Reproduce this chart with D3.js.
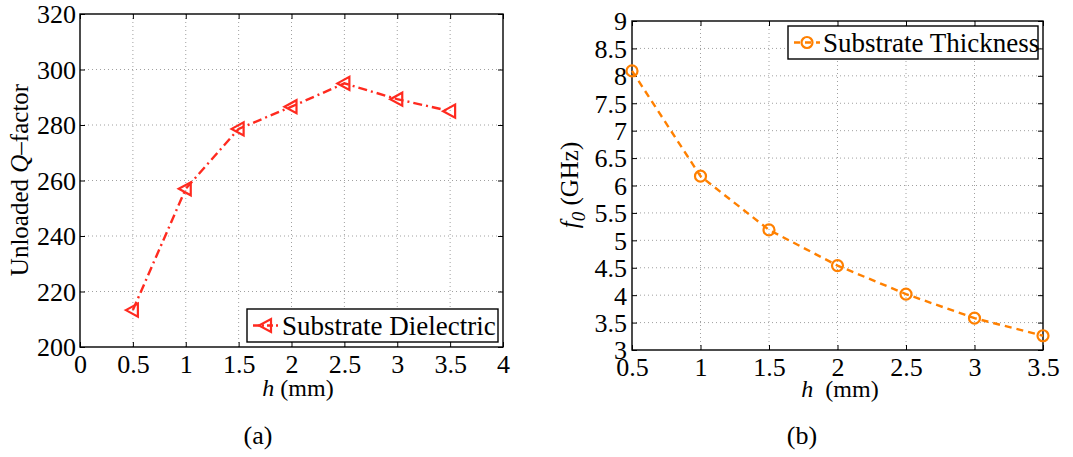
<!DOCTYPE html>
<html>
<head>
<meta charset="utf-8">
<script src="https://cdn.jsdelivr.net/npm/d3@7"></script>
<style>
  html, body { margin: 0; padding: 0; background: #fff; }
  svg { display: block; }
  svg text { font-family: "Liberation Serif", "Times New Roman", "DejaVu Serif", serif; }
</style>
</head>
<body>
<svg id="fig" width="1073" height="457"></svg>
<script>
// Substrate thickness h (mm)
const thicknessA = [0.5, 1, 1.5, 2, 2.5, 3, 3.5];
const qFactor = [213.3, 257, 278.6, 286.6, 295, 289.3, 285];

const thicknessB = [0.5, 1, 1.5, 2, 2.5, 3, 3.5];
const resonantFreq = [8.09, 6.17, 5.19, 4.54, 4.02, 3.58, 3.26];

const xTicksA = [0, 0.5, 1, 1.5, 2, 2.5, 3, 3.5, 4];
const yTicksA = [200, 220, 240, 260, 280, 300, 320];
const xTicksB = [0.5, 1, 1.5, 2, 2.5, 3, 3.5];
const yTicksB = [3, 3.5, 4, 4.5, 5, 5.5, 6, 6.5, 7, 7.5, 8, 8.5, 9];

const legendA = "Substrate Dielectric";
const legendB = "Substrate Thickness";

const RED = "#ff2a1f";
const ORANGE = "#ff8000";
const FS_TICK = 26;
const FS_LEG = 27;
const FS_LABEL = 24;
const SERIF = "Liberation Serif, Times New Roman, DejaVu Serif, serif";

const svg = d3.select("#fig");

function panel(cfg) {
  const x = d3.scaleLinear().domain(cfg.xDomain).range([cfg.left, cfg.right]);
  const y = d3.scaleLinear().domain(cfg.yDomain).range([cfg.bottom, cfg.top]);
  const g = svg.append("g");

  // dotted grid
  g.selectAll(".gx").data(cfg.xTicks.filter(t => t !== cfg.xDomain[0] && t !== cfg.xDomain[1]))
    .join("line")
    .attr("x1", d => x(d)).attr("x2", d => x(d))
    .attr("y1", cfg.top).attr("y2", cfg.bottom)
    .attr("stroke", "#a0a0a0").attr("stroke-width", 1).attr("stroke-dasharray", "1,3");
  g.selectAll(".gy").data(cfg.yTicks.filter(t => t !== cfg.yDomain[0] && t !== cfg.yDomain[1]))
    .join("line")
    .attr("x1", cfg.left).attr("x2", cfg.right)
    .attr("y1", d => y(d)).attr("y2", d => y(d))
    .attr("stroke", "#a0a0a0").attr("stroke-width", 1).attr("stroke-dasharray", "1,3");

  // axes with inward ticks on every side
  const tl = 5;
  const axB = g.append("g").attr("transform", `translate(0,${cfg.bottom})`)
    .call(d3.axisBottom(x).tickValues(cfg.xTicks).tickSize(-tl).tickPadding(8).tickFormat(d3.format("")));
  const axT = g.append("g").attr("transform", `translate(0,${cfg.top})`)
    .call(d3.axisTop(x).tickValues(cfg.xTicks).tickSize(-tl).tickFormat(""));
  const axL = g.append("g").attr("transform", `translate(${cfg.left},0)`)
    .call(d3.axisLeft(y).tickValues(cfg.yTicks).tickSize(-tl).tickPadding(cfg.yPad).tickFormat(d3.format("")));
  const axR = g.append("g").attr("transform", `translate(${cfg.right},0)`)
    .call(d3.axisRight(y).tickValues(cfg.yTicks).tickSize(-tl).tickFormat(""));
  [axB, axT, axL, axR].forEach(a => {
    a.attr("font-family", SERIF);
    a.select(".domain").remove();
    a.selectAll("line").attr("stroke", "#000").attr("stroke-width", 1);
    a.selectAll("text").attr("font-family", SERIF).attr("font-size", FS_TICK).attr("fill", "#000");
  });
  axB.selectAll("text").attr("dy", "0.71em");
  axL.selectAll("text").attr("dy", "0.34em");

  g.append("rect")
    .attr("x", cfg.left).attr("y", cfg.top)
    .attr("width", cfg.right - cfg.left).attr("height", cfg.bottom - cfg.top)
    .attr("fill", "none").attr("stroke", "#000").attr("stroke-width", 1.4);

  // data line
  const pts = cfg.xs.map((v, i) => [v, cfg.ys[i]]);
  g.append("path")
    .datum(pts)
    .attr("d", d3.line().x(d => x(d[0])).y(d => y(d[1])))
    .attr("fill", "none").attr("stroke", cfg.color).attr("stroke-width", 2.4)
    .attr("stroke-dasharray", cfg.dash);

  g.selectAll(".mk").data(pts).join("path")
    .attr("transform", d => `translate(${x(d[0])},${y(d[1])})`)
    .attr("d", cfg.marker)
    .attr("fill", "none").attr("stroke", cfg.color).attr("stroke-width", 2.2);

  // legend
  const L = cfg.legend;
  g.append("rect").attr("x", L.x).attr("y", L.y).attr("width", L.w).attr("height", L.h)
    .attr("fill", "#fff").attr("stroke", "#000").attr("stroke-width", 1.4);
  const my = L.y + L.h / 2;
  g.append("line").attr("x1", L.x + 6).attr("x2", L.x + 32).attr("y1", my).attr("y2", my)
    .attr("stroke", cfg.color).attr("stroke-width", 2.4).attr("stroke-dasharray", cfg.legendDash);
  g.append("path").attr("transform", `translate(${L.x + 19},${my})`).attr("d", cfg.marker)
    .attr("fill", "none").attr("stroke", cfg.color).attr("stroke-width", 2.2);
  g.append("text").attr("x", L.x + 35).attr("y", my).attr("dy", "0.35em")
    .attr("font-family", SERIF).attr("font-size", FS_LEG).text(L.text);

  return { x, y, g };
}

// left-pointing triangle and circle markers
const triLeft = "M-7,0L5,-6.5L5,6.5Z";
const circle = d3.symbol().type(d3.symbolCircle).size(95)();

panel({
  left: 80, right: 503, top: 14, bottom: 347,
  xDomain: [0, 4], yDomain: [200, 320],
  xTicks: xTicksA, yTicks: yTicksA, yPad: 4,
  xs: thicknessA, ys: qFactor,
  color: RED, dash: "9,4,2,4", legendDash: "6,3,2,3",
  marker: triLeft,
  legend: { x: 247, y: 309, w: 251, h: 33, text: legendA }
});

panel({
  left: 632, right: 1043, top: 21, bottom: 350,
  xDomain: [0.5, 3.5], yDomain: [3, 9],
  xTicks: xTicksB, yTicks: yTicksB, yPad: 5,
  xs: thicknessB, ys: resonantFreq,
  color: ORANGE, dash: "7,5", legendDash: "6,5",
  marker: circle,
  legend: { x: 788, y: 26, w: 250, h: 33, text: legendB }
});

// axis titles
const yA = svg.append("text")
  .attr("transform", "translate(28,180) rotate(-90)")
  .attr("text-anchor", "middle").attr("font-family", SERIF).attr("font-size", FS_LABEL + 1);
yA.append("tspan").text("Unloaded ");
yA.append("tspan").attr("font-style", "italic").text("Q");
yA.append("tspan").text("\u2013factor");

const yB = svg.append("text")
  .attr("transform", "translate(578,185) rotate(-90)")
  .attr("text-anchor", "middle").attr("font-family", SERIF).attr("font-size", FS_LABEL + 1);
yB.append("tspan").attr("font-style", "italic").text("f");
yB.append("tspan").attr("font-style", "italic").attr("font-size", 19).attr("dy", 7).text("0");
yB.append("tspan").attr("dy", -7).text(" (GHz)");

const xA = svg.append("text").attr("x", 298).attr("y", 396)
  .attr("text-anchor", "middle").attr("font-family", SERIF).attr("font-size", FS_LABEL);
xA.append("tspan").attr("font-style", "italic").text("h");
xA.append("tspan").text(" (mm)");

const xB = svg.append("text").attr("x", 840).attr("y", 397)
  .attr("text-anchor", "middle").attr("font-family", SERIF).attr("font-size", FS_LABEL);
xB.append("tspan").attr("font-style", "italic").text("h");
xB.append("tspan").text("\u00a0 (mm)");

// panel captions
svg.append("text").attr("x", 258).attr("y", 444).attr("text-anchor", "middle")
  .attr("font-family", SERIF).attr("font-size", FS_TICK).text("(a)");
svg.append("text").attr("x", 802).attr("y", 444).attr("text-anchor", "middle")
  .attr("font-family", SERIF).attr("font-size", FS_TICK).text("(b)");
</script>
</body>
</html>
